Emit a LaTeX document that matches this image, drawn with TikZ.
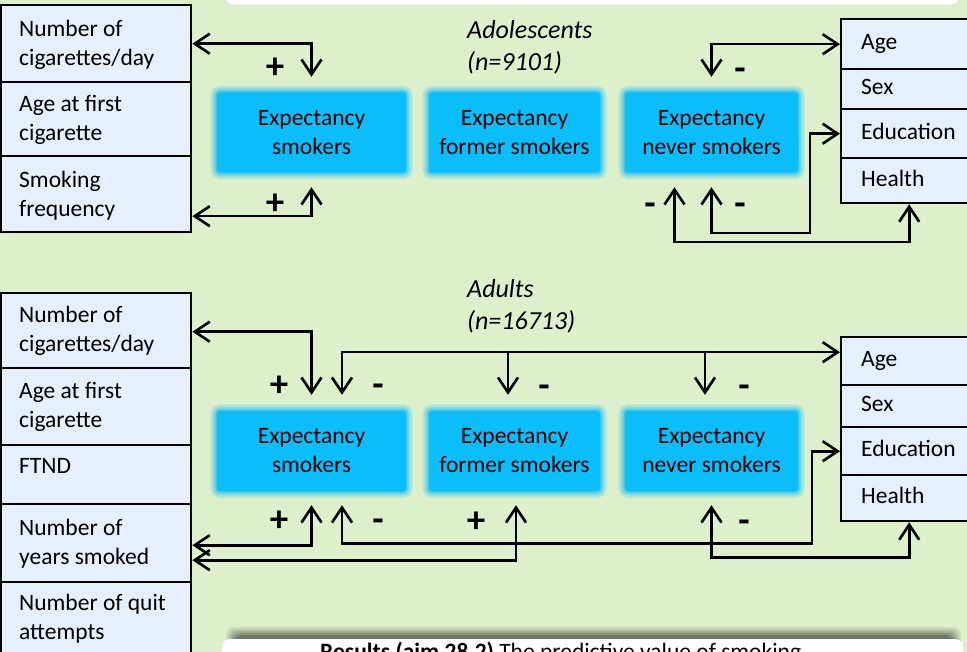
\documentclass[tikz,border=0pt]{standalone}
\usepackage{fontspec}
\setmainfont{Carlito}
\usetikzlibrary{arrows.meta}
\definecolor{bgg}{RGB}{222,239,204}
\definecolor{cellb}{RGB}{230,239,252}
\definecolor{cyanb}{RGB}{11,190,250}
\tikzset{
  every node/.style={font=\fontsize{23.5}{29}\selectfont, text=black},
  cell/.style={draw=black, line width=2.4pt, fill=cellb, minimum width=190pt, inner sep=0pt, anchor=north west},
  rcell/.style={draw=black, line width=2.4pt, fill=cellb, minimum width=136pt, text width=96pt, inner xsep=20pt, inner ysep=0pt, align=left, text height=16pt, text depth=5pt, anchor=north west},
  ctext/.style={anchor=west, align=left, inner sep=0pt},
  expbox/.style={fill=cyanb, rounded corners=3pt, minimum height=80pt, inner sep=0pt, align=center,
     preaction={draw=cyanb, line width=14pt, opacity=0.12},
     preaction={draw=cyanb, line width=11pt, opacity=0.15},
     preaction={draw=cyanb, line width=8pt, opacity=0.2},
     preaction={draw=cyanb, line width=5pt, opacity=0.3},
     preaction={draw=cyanb, line width=2pt, opacity=0.5}},
  grp/.style={anchor=west, align=left, inner sep=0pt, font=\fontsize{26}{32}\selectfont\itshape},
  sgn/.style={font=\fontsize{37}{40}\selectfont\bfseries, inner sep=0pt, text height=0.66em, text depth=0pt, yshift=-7pt},
  conn/.style={line width=2.6pt, draw=black},
  biarr/.style={conn, {Straight Barb[length=15pt,width=20pt]}-{Straight Barb[length=15pt,width=20pt]}},
  fwdarr/.style={conn, -{Straight Barb[length=15pt,width=20pt]}},
}
\begin{document}
\begin{tikzpicture}[x=1pt, y=-1pt]
\useasboundingbox (0,0) rectangle (967,652);
\fill[bgg] (0,0) rectangle (967,652);
% banner boxes
\filldraw[fill=white, draw=black!12, line width=0.8pt, rounded corners=8pt] (225,-30) rectangle (960,5);
\foreach \i/\o in {0/0.08,2/0.1,4/0.12,6/0.15,8/0.18} {
  \fill[black, opacity=\o, rounded corners=8pt] (226+\i,627+\i) rectangle (961-\i,700);
}
\fill[white, rounded corners=8pt] (222,639) rectangle (963,720);
\node[anchor=base west, inner sep=0pt] (res) at (320,659) {\textbf{Results (aim 28.2)} The predictive value of smoking};

% ---------------- Adolescents ----------------
\node[cell, minimum height=77pt] (ta1) at (0,4) {};
\node[cell, minimum height=74pt] (ta2) at (0,81) {};
\node[cell, minimum height=76pt] (ta3) at (0,155) {};
\node[ctext] (ta1t) at (19,44.5) {Number of\\cigarettes/day};
\node[ctext] (ta2t) at (19,119.5) {Age at first\\cigarette};
\node[ctext] (ta3t) at (19,195.5) {Smoking\\frequency};

\node[rcell, minimum height=50pt] (tage) at (840,18) {Age};
\node[rcell, minimum height=40pt] (tsex) at (840,68) {Sex};
\node[rcell, minimum height=49pt] (tedu) at (840,108) {Education};
\node[rcell, minimum height=45pt] (thealth) at (840,157) {Health};

\node[expbox, minimum width=189pt] (ts) at (311.5,132.5) {Expectancy\\smokers};
\node[expbox, minimum width=171pt] (tf) at (514.5,132.5) {Expectancy\\former smokers};
\node[expbox, minimum width=173pt] (tn) at (711.5,132.5) {Expectancy\\never smokers};

\node[grp] (adol) at (467,47.5) {Adolescents\\(n=9101)};

\draw[biarr] (ta1.east) -| ([yshift=15.5pt]ts.north);
\draw[biarr] ([yshift=-22pt]ta3.east) -| ([yshift=-14.5pt]ts.south);
\draw[biarr] (tage.west) -| ([yshift=15.5pt]tn.north);
\draw[biarr] ([yshift=-14.5pt]tn.south) -- ++(0,46) -| ([xshift=-30pt]tedu.west) -- (tedu.west);
\draw[biarr] ([xshift=-37pt,yshift=-14.5pt]tn.south) -- ++(0,55) -| (thealth.south);

\node[sgn] (sa1) at (275,68) {+};
\node[sgn] (sa2) at (275,204) {+};
\node[sgn] (sa3) at (740,70) {-};
\node[sgn] (sa4) at (650,205) {-};
\node[sgn] (sa5) at (740,205) {-};

% ---------------- Adults ----------------
\node[cell, minimum height=75pt] (ba1) at (0,292) {};
\node[cell, minimum height=77pt] (ba2) at (0,367) {};
\node[cell, minimum height=59pt] (ba3) at (0,444) {};
\node[cell, minimum height=78pt] (ba4) at (0,503) {};
\node[cell, minimum height=100pt] (ba5) at (0,581) {};
\node[ctext] (ba1t) at (19,330.5) {Number of\\cigarettes/day};
\node[ctext] (ba2t) at (19,406.5) {Age at first\\cigarette};
\node[ctext] (ba3t) at (19,466) {FTND};
\node[ctext] (ba4t) at (19,543.5) {Number of\\years smoked};
\node[ctext] (ba5t) at (19,618.5) {Number of quit\\attempts};

\node[rcell, minimum height=48pt] (bage) at (840,336) {Age};
\node[rcell, minimum height=42pt] (bsex) at (840,384) {Sex};
\node[rcell, minimum height=48pt] (bedu) at (840,426) {Education};
\node[rcell, minimum height=46pt] (bhealth) at (840,474) {Health};

\node[expbox, minimum width=189pt] (bs) at (311.5,451) {Expectancy\\smokers};
\node[expbox, minimum width=171pt] (bf) at (514.5,451) {Expectancy\\former smokers};
\node[expbox, minimum width=173pt] (bn) at (711.5,451) {Expectancy\\never smokers};

\node[grp] (adul) at (467,306) {Adults\\(n=16713)};

\coordinate (agel) at ([yshift=9pt]bage.west);
\coordinate (fdown) at ([xshift=-6.5pt,yshift=16pt]bf.north);
\coordinate (ndown) at ([xshift=-6.5pt,yshift=16pt]bn.north);

\draw[biarr] ([yshift=-1pt]ba1.east) -| ([yshift=16pt]bs.north);
\draw[biarr] ([xshift=30.5pt,yshift=16pt]bs.north) |- (agel);
\draw[fwdarr] (fdown |- agel) -- (fdown);
\draw[fwdarr] (ndown |- agel) -- (ndown);
\draw[biarr] ([yshift=-2pt]ba4.east) -| ([yshift=-14pt]bs.south);
\draw[biarr] ([yshift=-17pt]ba4.east) -| ([xshift=1.5pt,yshift=-14pt]bf.south);
\draw[biarr] ([xshift=30.5pt,yshift=-14pt]bs.south) -- ++(0,38) -| ([xshift=-28pt]bedu.west) -- (bedu.west);
\draw[biarr] ([yshift=-14pt]bn.south) -- ++(0,52) -| (bhealth.south);

\node[sgn] (sb1) at (279,386) {+};
\node[sgn] (sb2) at (378,386) {-};
\node[sgn] (sb3) at (544,387) {-};
\node[sgn] (sb4) at (744,387) {-};
\node[sgn] (sb5) at (279,521) {+};
\node[sgn] (sb6) at (378,521) {-};
\node[sgn] (sb7) at (476,522) {+};
\node[sgn] (sb8) at (744,522) {-};
\end{tikzpicture}
\end{document}
